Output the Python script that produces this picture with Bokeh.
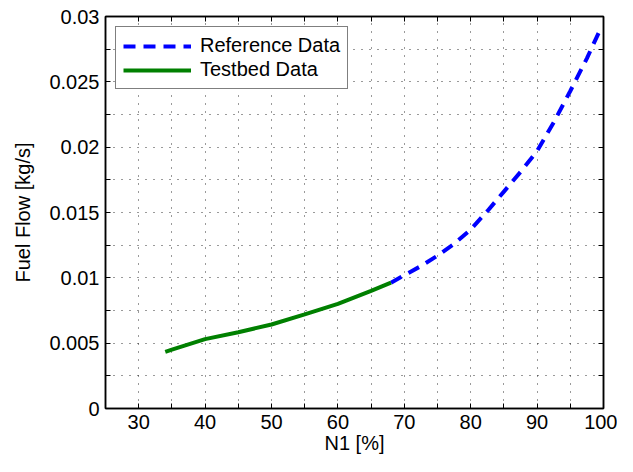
from bokeh.plotting import figure
from bokeh.models import (FixedTicker, LinearAxis, CustomJSTickFormatter, Legend, LegendItem, Range1d)
from bokeh.embed import file_html
from bokeh.resources import INLINE

# Data
testbed_n1 = [34.0, 35, 40, 45, 50, 55, 60, 65, 68]
testbed_ff = [0.00434, 0.00451, 0.00531, 0.00584, 0.00643, 0.0072, 0.0080, 0.0090, 0.00963]
ref_n1 = [68, 70, 72.5, 75, 77.5, 80, 82.5, 85, 87.5, 90, 92.5, 95, 97.5, 99.5]
ref_ff = [0.00963, 0.0102, 0.0109, 0.0117, 0.0126, 0.0137, 0.0151, 0.0166, 0.0181,
          0.0197, 0.0219, 0.0243, 0.0268, 0.0290]
x_ticks = [30, 40, 50, 60, 70, 80, 90, 100]
x_minor = [25, 35, 45, 55, 65, 75, 85, 95]
y_ticks = [0, 0.005, 0.01, 0.015, 0.02, 0.025, 0.03]
y_minor = [0.0025, 0.0075, 0.0125, 0.0175, 0.0225, 0.0275]

FONT = "Liberation Sans"
FS = "20px"

p = figure(width=617, height=456, output_backend="svg", toolbar_location=None,
           x_range=Range1d(25, 100), y_range=Range1d(0, 0.03),
           min_border_left=105, min_border_right=14, min_border_top=16, min_border_bottom=39,
           x_axis_label="N1 [%]", y_axis_label="Fuel Flow [kg/s]")
p.background_fill_color = "white"
p.border_fill_color = "white"
p.outline_line_color = "black"
p.outline_line_width = 1.5

xt = FixedTicker(ticks=x_ticks, minor_ticks=x_minor)
yt = FixedTicker(ticks=y_ticks, minor_ticks=y_minor)
p.xaxis.ticker = xt
p.yaxis.ticker = yt
p.yaxis.formatter = CustomJSTickFormatter(code="return String(Math.round(tick*10000)/10000)")

for ax in [p.xaxis[0], p.yaxis[0]]:
    ax.axis_line_color = "black"
    ax.axis_line_width = 1.5
    ax.major_tick_in = 5
    ax.major_tick_out = 0
    ax.minor_tick_in = 5
    ax.minor_tick_out = 0
    ax.major_tick_line_color = "black"
    ax.minor_tick_line_color = "black"
    ax.major_label_text_font = FONT
    ax.major_label_text_font_size = FS
    ax.major_label_text_color = "black"
    ax.axis_label_text_font = FONT
    ax.axis_label_text_font_size = FS
    ax.axis_label_text_font_style = "normal"
    ax.axis_label_text_color = "black"
p.xaxis.major_label_standoff = 6
p.xaxis.axis_label_standoff = 0
p.yaxis.major_label_standoff = 6
p.yaxis.axis_label_standoff = 12

# top and right axes (ticks only)
for loc, tk in [("above", xt), ("right", yt)]:
    ax = LinearAxis(ticker=tk, formatter=CustomJSTickFormatter(code="return ''"))
    ax.axis_line_color = "black"
    ax.axis_line_width = 1.5
    ax.major_tick_in = 5
    ax.major_tick_out = 0
    ax.minor_tick_in = 5
    ax.minor_tick_out = 0
    ax.major_label_standoff = 0
    ax.major_label_text_font_size = "1px"
    p.add_layout(ax, loc)

for g in [p.xgrid[0], p.ygrid[0]]:
    g.grid_line_color = "#111111"
    g.grid_line_alpha = 0.85
    g.grid_line_dash = "1 7"
    g.grid_line_width = 1
    g.minor_grid_line_color = "#111111"
    g.minor_grid_line_alpha = 0.85
    g.minor_grid_line_dash = "1 7"
    g.minor_grid_line_width = 1

r_ref = p.line(ref_n1, ref_ff, line_color="blue", line_width=4, line_dash="12 8")
r_tb = p.line(testbed_n1, testbed_ff, line_color="green", line_width=4)

legend = Legend(items=[LegendItem(label="Reference Data", renderers=[r_ref]),
                       LegendItem(label="Testbed Data", renderers=[r_tb])],
                location="top_left")
legend.label_text_font = FONT
legend.label_text_font_size = FS
legend.label_text_color = "black"
legend.border_line_color = "black"
legend.border_line_width = 1.5
legend.background_fill_alpha = 1
legend.padding = 7
legend.spacing = 1
legend.margin = 10
legend.glyph_width = 68
legend.glyph_height = 20
legend.label_height = 20
legend.label_standoff = 9
p.add_layout(legend)

open("out.html", "w").write(file_html(p, INLINE))
